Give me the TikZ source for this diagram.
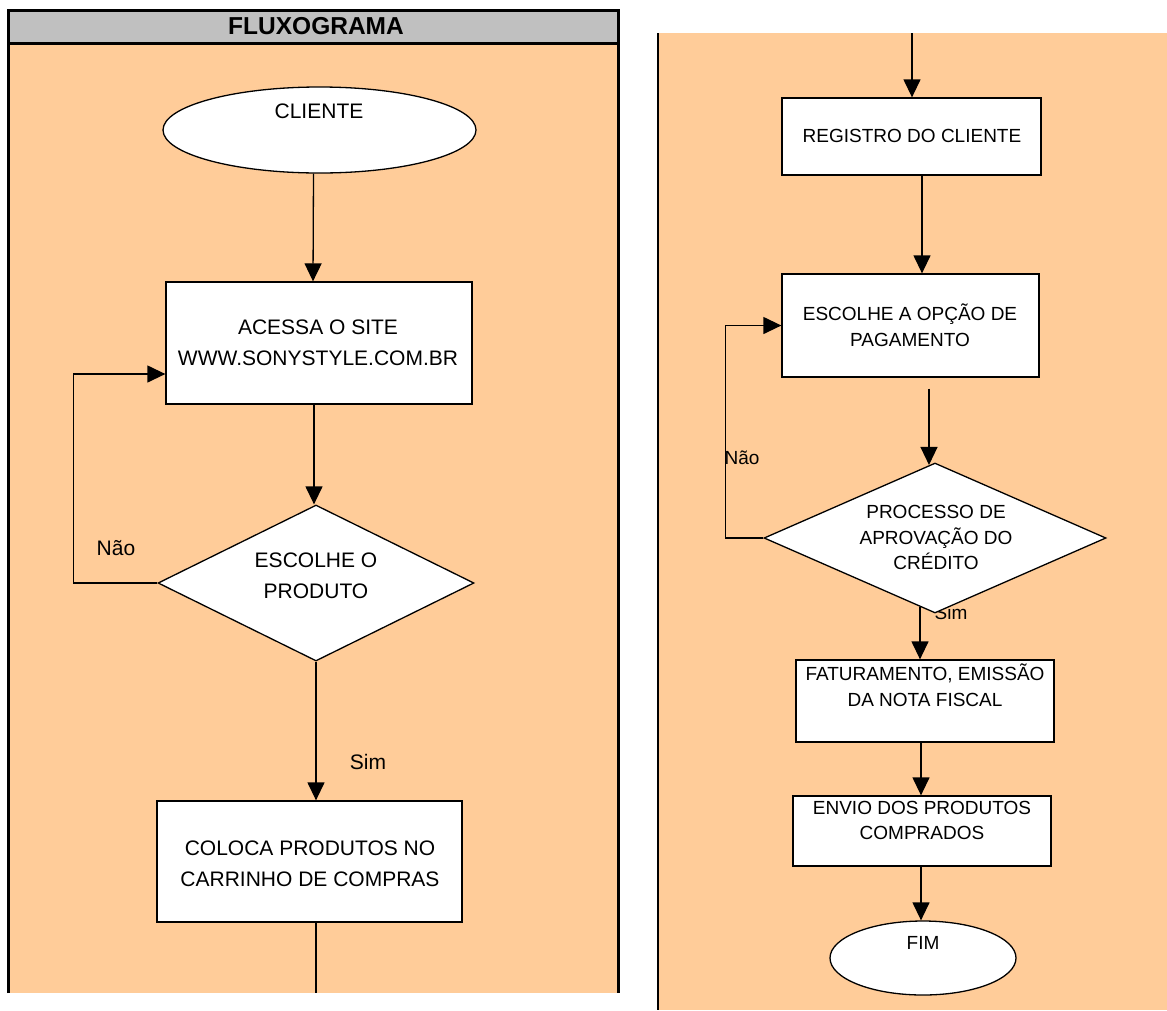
\documentclass[tikz,border=0pt]{standalone}
\usepackage{fontspec}
\setmainfont{Liberation Sans}
\usetikzlibrary{shapes.geometric,arrows.meta}
\definecolor{peach}{HTML}{FFCC99}
\definecolor{hdrgray}{HTML}{C0C0C0}
\begin{document}
\begin{tikzpicture}[x=1pt,y=-1pt,
 box/.style={draw=black,line width=1.3pt,fill=white,inner sep=0pt},
 dia/.style={diamond,draw=black,line width=1.3pt,fill=white,inner sep=0pt},
 ell/.style={ellipse,draw=black,line width=1.3pt,fill=white,inner sep=0pt},
 arr/.style={line width=1.3pt,-{Triangle[length=18pt,width=17pt]}},
 lnk/.style={line width=1.3pt},
 ltxt/.style={font=\fontsize{21}{31}\selectfont,align=center,inner sep=0pt},
 rtxt/.style={font=\fontsize{19}{25.5}\selectfont,align=center,inner sep=0pt},
 frame/.style={line width=3pt}]

\useasboundingbox (0,0) rectangle (1167,1010);
\fill[white] (0,0) rectangle (1167,1010);
% left panel
\fill[peach] (8,43) rectangle (618,993);
\fill[hdrgray] (8,10) rectangle (618,43);
\draw[frame] (8,993) -- (8,10) -- (618,10) -- (618,993);
\draw[frame] (8,43) -- (618,43);
\node[font=\fontsize{24.5}{28}\selectfont\bfseries,inner sep=0pt] (title) at (316,26) {FLUXOGRAMA};
% right panel
\fill[peach] (658,33) rectangle (1167,1010);
\draw[line width=2pt] (658,33) -- (658,1010);

% left nodes
\node[ell,minimum width=313pt,minimum height=86pt] (cliente) at (319.5,130) {};
\node[ltxt] (tcliente) at (319,111) {CLIENTE};
\node[box,minimum width=306pt,minimum height=122pt] (acessa) at (319,343) {};
\node[ltxt] (tacessa) at (318,342.5) {ACESSA O SITE\\WWW.SONYSTYLE.COM.BR};
\node[dia,minimum width=316pt,minimum height=156pt] (escolhe) at (316,583) {};
\node[ltxt] (tesc) at (316,575.5) {ESCOLHE O\\PRODUTO};
\node[box,minimum width=305pt,minimum height=121pt] (coloca) at (309.5,861.5) {};
\node[ltxt] (tcol) at (310,863.5) {COLOCA PRODUTOS NO\\CARRINHO DE COMPRAS};
\node[ltxt] (nao1) at (116,548) {Não};
\node[ltxt] (sim1) at (368,762) {Sim};
\coordinate (lend) at (316,993);

\draw[arr] ([xshift=-6pt]cliente.south) -- ([xshift=-6pt]acessa.north);
\draw[arr] ([xshift=-5pt]acessa.south) -- ([xshift=-2pt]escolhe.north);
\draw[arr] (escolhe.south) -- (escolhe.south |- coloca.north);
\draw[arr] (escolhe.west) -- ++(-84,0) |- ([yshift=-31pt]acessa.west);
\draw[lnk] (coloca.south -| escolhe.south) -- (lend);

% right nodes
\coordinate (rtop) at (912,33);
\node[box,minimum width=259pt,minimum height=77pt] (reg) at (911.5,136.5) {};
\node[rtxt] (treg) at (912,136) {REGISTRO DO CLIENTE};
\node[box,minimum width=257pt,minimum height=103pt] (opc) at (910.5,325.5) {};
\node[rtxt] (topc) at (910,325) {ESCOLHE A OPÇÃO DE\\PAGAMENTO};
\node[rtxt] (sim2) at (951,613) {Sim};
\node[dia,minimum width=342pt,minimum height=150pt] (proc) at (935,538) {};
\node[rtxt] (tproc) at (936,537.5) {PROCESSO DE\\APROVAÇÃO DO\\CRÉDITO};
\node[rtxt] (nao2) at (742,458) {Não};
\node[box,minimum width=258pt,minimum height=82pt] (fat) at (925,701) {};
\node[rtxt] (tfat) at (925,685) {FATURAMENTO, EMISSÃO\\DA NOTA FISCAL};
\node[box,minimum width=258pt,minimum height=70pt] (env) at (922,831) {};
\node[rtxt] (tenv) at (922,820.5) {ENVIO DOS PRODUTOS\\COMPRADOS};
\node[ell,minimum width=186pt,minimum height=74pt] (fim) at (923,958) {};
\node[rtxt] (tfim) at (923,943) {FIM};

\draw[arr] (rtop) -- (rtop |- reg.north);
\draw[arr] ([xshift=10.5pt]reg.south) -- ([xshift=11.5pt]opc.north);
\draw[arr] ([xshift=18.5pt,yshift=-11pt]opc.south) -- ([xshift=-6pt,yshift=-2.6pt]proc.north);
\draw[arr] (proc.west) -- ++(-38,0) |- (opc.west);
\draw[arr] ([xshift=-15pt,yshift=6.6pt]proc.south) -- ([xshift=-5pt]fat.north);
\draw[arr] ([xshift=-4pt]fat.south) -- ([xshift=-1pt]env.north);
\draw[arr] ([xshift=-1pt]env.south) -- ([xshift=-2pt]fim.north);
\end{tikzpicture}
\end{document}
